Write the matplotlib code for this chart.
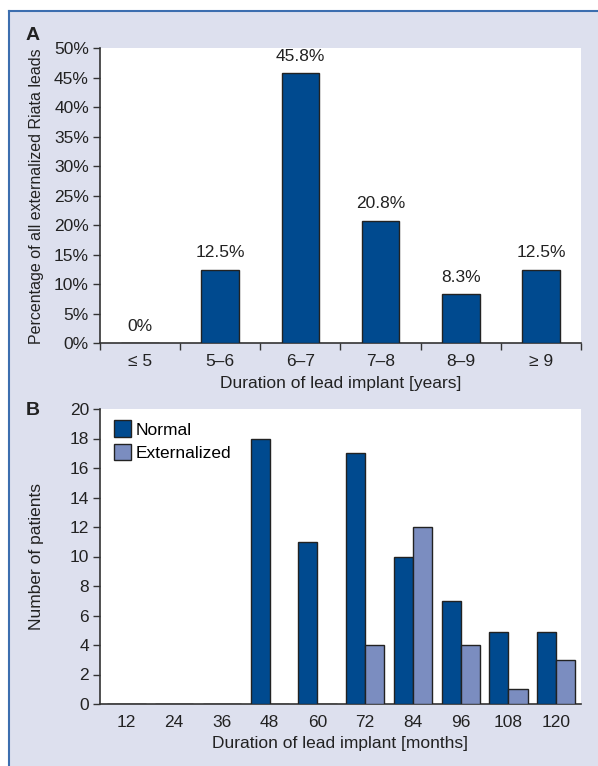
import numpy as np
import matplotlib
matplotlib.use("Agg")
import matplotlib.pyplot as plt
from matplotlib.patches import Rectangle
from matplotlib.lines import Line2D

plt.rcParams['font.family'] = ['Liberation Sans Narrow', 'Liberation Sans', 'DejaVu Sans']

# Panel A data
years_labels = ['\u2264 5', '5\u20136', '6\u20137', '7\u20138', '8\u20139', '\u2265 9']
pct_values = [0.0, 12.5, 45.8, 20.8, 8.3, 12.5]
pct_text = ['0%', '12.5%', '45.8%', '20.8%', '8.3%', '12.5%']

# Panel B data
months = [12, 24, 36, 48, 60, 72, 84, 96, 108, 120]
normal = [0, 0, 0, 18, 11, 17, 10, 7, 4.85, 4.85]
externalized = [0, 0, 0, 0, 0, 4, 12, 4, 1, 3]

dark_blue = '#004a8f'
light_blue = '#7b8dc0'
bg = '#dde0ee'
text_col = '#222222'
fs = 12.5

W, H = 598, 766
fig = plt.figure(figsize=(W / 100, H / 100), dpi=100)
fig.patch.set_facecolor('white')

# lavender box with blue border on top and left
fig.patches.append(Rectangle((8 / W, 0), 1, 1 - 10.5 / H, transform=fig.transFigure,
                             facecolor=bg, edgecolor='none', zorder=-10))
fig.lines.append(Line2D([8.5 / W, 1], [1 - 10.5 / H, 1 - 10.5 / H], transform=fig.transFigure,
                        color='#3c6eaf', lw=1.5))
fig.lines.append(Line2D([8.5 / W, 8.5 / W], [0, 1 - 10.5 / H], transform=fig.transFigure,
                        color='#3c6eaf', lw=1.5))

# ---- Panel A ----
axA = fig.add_axes([100 / W, 1 - 343.3 / H, 481 / W, 295 / H])
x = np.arange(len(years_labels))
axA.bar(x, pct_values, width=0.47, color=dark_blue, edgecolor=text_col, linewidth=1, zorder=3)
for xi, v, t in zip(x, pct_values, pct_text):
    axA.text(xi, v + 1.6, t, ha='center', va='bottom', fontsize=fs, color=text_col)
axA.set_xlim(-0.5, 5.5)
axA.set_ylim(0, 50)
axA.set_yticks(np.arange(0, 51, 5))
axA.set_yticklabels([f'{v}%' for v in range(0, 51, 5)])
axA.set_xticks(np.arange(-0.5, 5.6, 1))
axA.set_xticklabels([])
axA.set_xticks(x, minor=True)
axA.set_xticklabels(years_labels, minor=True)
axA.tick_params(axis='x', which='minor', length=0, pad=8, labelsize=fs, labelcolor=text_col)
axA.tick_params(axis='x', which='major', length=5, width=1, direction='out', color='#333333')
axA.tick_params(axis='y', length=5, width=1, direction='out', labelsize=fs, color='#333333',
                labelcolor=text_col, pad=3)
axA.set_xlabel('Duration of lead implant [years]', fontsize=fs, labelpad=5, color=text_col)
axA.set_ylabel('Percentage of all externalized Riata leads', fontsize=11.5, color=text_col)
axA.yaxis.set_label_coords(-0.117, 0.5)
for s in ['top', 'right']:
    axA.spines[s].set_visible(False)
for s in ['left', 'bottom']:
    axA.spines[s].set_color('#333333')
    axA.spines[s].set_linewidth(1.2)
fig.text(33 / W, 1 - 35 / H, 'A', fontsize=14, fontweight='bold', ha='center', va='center',
         color=text_col)

# ---- Panel B ----
axB = fig.add_axes([100 / W, 1 - 704 / H, 481 / W, 295 / H])
xb = np.arange(len(months))
w = 0.40
axB.bar(xb - w / 2, normal, width=w, color=dark_blue, edgecolor=text_col, linewidth=1,
        label='Normal', zorder=3)
axB.bar(xb + w / 2, externalized, width=w, color=light_blue, edgecolor=text_col, linewidth=1,
        label='Externalized', zorder=3)
axB.set_xlim(-0.555, 9.52)
axB.set_ylim(0, 20)
axB.set_yticks(np.arange(0, 21, 2))
axB.set_xticks(xb)
axB.set_xticklabels([str(m) for m in months])
axB.tick_params(axis='x', length=0, pad=8, labelsize=fs, labelcolor=text_col)
axB.tick_params(axis='y', length=5, width=1, direction='out', labelsize=fs, color='#333333',
                labelcolor=text_col, pad=3)
axB.set_xlabel('Duration of lead implant [months]', fontsize=fs, labelpad=4, color=text_col)
axB.set_ylabel('Number of patients', fontsize=fs, color=text_col)
axB.yaxis.set_label_coords(-0.117, 0.5)
for s in ['top', 'right']:
    axB.spines[s].set_visible(False)
for s in ['left', 'bottom']:
    axB.spines[s].set_color('#333333')
    axB.spines[s].set_linewidth(1.2)
axB.legend(loc='upper left', frameon=False, fontsize=fs, handlelength=0.95, handleheight=1.1,
           handletextpad=0.3, labelspacing=0.35, borderaxespad=0.0,
           bbox_to_anchor=(0.015, 0.985))
fig.text(33 / W, 1 - 411 / H, 'B', fontsize=14, fontweight='bold', ha='center', va='center',
         color=text_col)

fig.savefig('out.png', dpi=100, facecolor=fig.get_facecolor())
